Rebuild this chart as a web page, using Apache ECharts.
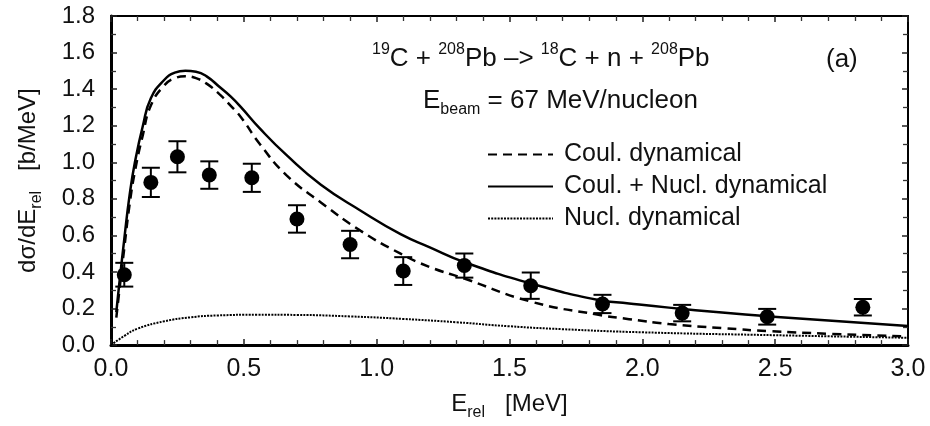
<!DOCTYPE html>
<html>
<head>
<meta charset="utf-8">
<script src="https://cdn.jsdelivr.net/npm/echarts@6/dist/echarts.min.js"></script>
<style>
html,body{margin:0;padding:0;background:#fff;}
#chart{width:930px;height:426px;}
</style>
</head>
<body>
<div id="chart"></div>
<script>
// ---- data ----
var curveE   = [0.02, 0.03, 0.05, 0.07, 0.09, 0.12, 0.15, 0.20, 0.24, 0.28, 0.32, 0.36, 0.41, 0.45, 0.49, 0.56, 0.66, 0.79, 0.94, 1.09, 1.20, 1.33, 1.58, 1.83, 1.95, 2.10, 2.30, 2.48, 2.70, 3.00];
var coulDyn  = [0.15, 0.28, 0.53, 0.77, 0.95, 1.15, 1.31, 1.42, 1.46, 1.47, 1.46, 1.43, 1.37, 1.31, 1.245, 1.10, 0.93, 0.78, 0.625, 0.50, 0.427, 0.364, 0.238, 0.167, 0.142, 0.115, 0.093, 0.076, 0.062, 0.047];
var totalDyn = [0.18, 0.32, 0.58, 0.82, 1.00, 1.20, 1.35, 1.45, 1.49, 1.50, 1.495, 1.47, 1.41, 1.36, 1.30, 1.185, 1.04, 0.877, 0.735, 0.607, 0.535, 0.454, 0.337, 0.248, 0.228, 0.205, 0.178, 0.157, 0.135, 0.105];
var nuclE    = [0.0, 0.05, 0.10, 0.20, 0.30, 0.40, 0.55, 0.70, 0.90, 1.10, 1.30, 1.50, 1.70, 2.00, 2.50, 3.00];
var nuclDyn  = [0.0, 0.05, 0.09, 0.13, 0.152, 0.162, 0.166, 0.165, 0.157, 0.143, 0.125, 0.103, 0.087, 0.070, 0.054, 0.040];
var expE     = [0.05, 0.15, 0.25, 0.37, 0.53, 0.70, 0.90, 1.10, 1.33, 1.58, 1.85, 2.15, 2.47, 2.83];
var expSigma = [0.385, 0.89, 1.03, 0.93, 0.915, 0.69, 0.55, 0.405, 0.435, 0.325, 0.225, 0.175, 0.155, 0.207];
var expErr   = [0.065, 0.08, 0.085, 0.075, 0.077, 0.075, 0.075, 0.076, 0.066, 0.072, 0.05, 0.045, 0.043, 0.045];
var xTicks = {min: 0, max: 3, step: 0.5};
var yTicks = {min: 0, max: 1.8, step: 0.2};

function zip(a, b) { return a.map(function (v, i) { return [v, b[i]]; }); }

var FONT = '"Liberation Sans", Arial, Helvetica, sans-serif';
var INK = '#111';

var chart = echarts.init(document.getElementById('chart'), null, {renderer: 'canvas'});

var baseAxis = function (pos, isX, showLabel, lw) {
  var t = isX ? xTicks : yTicks;
  return {
    type: 'value', position: pos, min: t.min, max: t.max, interval: t.step,
    axisLine: {show: true, onZero: false, lineStyle: {color: '#000', width: lw}},
    axisTick: {show: true, inside: true, length: 6, lineStyle: {color: '#222', width: 1.5}},
    minorTick: {show: true, splitNumber: isX ? 5 : 2, length: 5, lineStyle: {color: '#333', width: 1.3}},
    splitLine: {show: false},
    axisLabel: {
      show: showLabel, color: INK, fontFamily: FONT, fontSize: isX ? 25 : 24,
      margin: isX ? 12 : 16,
      formatter: function (v) { return v.toFixed(1); }
    }
  };
};

var xBottom = baseAxis('bottom', true, true, 3);
xBottom.name = 'E{sub|rel}   [MeV]';
xBottom.nameLocation = 'middle';
xBottom.nameGap = 41;
xBottom.nameTextStyle = {
  color: INK, fontFamily: FONT, fontSize: 24, lineHeight: 34, verticalAlign: 'top',
  rich: {sub: {fontFamily: FONT, fontSize: 16, lineHeight: 16, verticalAlign: 'bottom', color: INK}}
};
var xTop = baseAxis('top', true, false, 2);
var yLeft = baseAxis('left', false, true, 3);
yLeft.name = 'd\u03c3/dE{sub|rel}   [b/MeV]';
yLeft.nameLocation = 'middle';
yLeft.nameRotate = 90;
yLeft.nameGap = 66;
yLeft.nameTextStyle = {
  color: INK, fontFamily: FONT, fontSize: 24, lineHeight: 34,
  rich: {sub: {fontFamily: FONT, fontSize: 16, lineHeight: 16, verticalAlign: 'bottom', color: INK}}
};
var yRight = baseAxis('right', false, false, 2);

var option = {
  backgroundColor: '#fff',
  animation: false,
  grid: {left: 111, right: 22, top: 16, bottom: 76, containLabel: false},
  xAxis: [xBottom, xTop],
  yAxis: [yLeft, yRight],
  legend: {
    data: ['Coul. dynamical', 'Coul. + Nucl. dynamical', 'Nucl. dynamical'],
    orient: 'vertical', left: 482, top: 137,
    itemWidth: 65, itemHeight: 14, itemGap: 7,
    itemStyle: {opacity: 0},
    textStyle: {color: INK, fontFamily: FONT, fontSize: 25, lineHeight: 25, padding: [0, 0, 0, 6]}
  },
  series: [
    {
      name: 'Coul. dynamical', type: 'line', xAxisIndex: 0, yAxisIndex: 0,
      data: zip(curveE, coulDyn), symbol: 'none', showSymbol: false, smooth: 0.5,
      lineStyle: {color: '#000', width: 2.5, type: [9, 6]}, itemStyle: {color: '#000'}, z: 3
    },
    {
      name: 'Coul. + Nucl. dynamical', type: 'line',
      data: zip(curveE, totalDyn), symbol: 'none', showSymbol: false, smooth: 0.5,
      lineStyle: {color: '#000', width: 2.5, type: 'solid'}, itemStyle: {color: '#000'}, z: 3
    },
    {
      name: 'Nucl. dynamical', type: 'line',
      data: zip(nuclE, nuclDyn), symbol: 'none', showSymbol: false, smooth: 0.5,
      lineStyle: {color: '#000', width: 2, type: [2, 1.2]}, itemStyle: {color: '#000'}, z: 3
    },
    {
      name: 'errors', type: 'custom',
      data: expE.map(function (e, i) { return [e, expSigma[i] - expErr[i], expSigma[i] + expErr[i]]; }),
      renderItem: function (params, api) {
        var lo = api.coord([api.value(0), api.value(1)]);
        var hi = api.coord([api.value(0), api.value(2)]);
        var hw = 9;
        var st = {stroke: '#000', lineWidth: 2};
        return {type: 'group', children: [
          {type: 'line', shape: {x1: lo[0], y1: lo[1], x2: hi[0], y2: hi[1]}, style: st},
          {type: 'line', shape: {x1: lo[0] - hw, y1: lo[1], x2: lo[0] + hw, y2: lo[1]}, style: st},
          {type: 'line', shape: {x1: hi[0] - hw, y1: hi[1], x2: hi[0] + hw, y2: hi[1]}, style: st}
        ]};
      },
      encode: {x: 0, y: [1, 2]}, z: 4
    },
    {
      name: 'data', type: 'scatter', data: zip(expE, expSigma),
      symbol: 'circle', symbolSize: 15, itemStyle: {color: '#000', opacity: 1}, z: 5
    }
  ],
  graphic: [
    {
      type: 'text', left: 372, top: 42,
      style: {
        text: '{sup|19}C + {sup|208}Pb \u2013> {sup|18}C + n + {sup|208}Pb',
        font: '26px ' + FONT, fill: INK, lineHeight: 34,
        rich: {sup: {fontSize: 16, fontFamily: FONT, lineHeight: 16, verticalAlign: 'top', fill: INK}}
      }
    },
    {
      type: 'text', left: 826, top: 43,
      style: {text: '(a)', font: '26px ' + FONT, fill: INK, lineHeight: 34}
    },
    {
      type: 'text', left: 423, top: 84,
      style: {
        text: 'E{sub|beam} = 67 MeV/nucleon',
        font: '26px ' + FONT, fill: INK, lineHeight: 34,
        rich: {sub: {fontSize: 16, fontFamily: FONT, lineHeight: 15, verticalAlign: 'bottom', fill: INK}}
      }
    }
  ]
};
chart.setOption(option);
</script>
</body>
</html>
